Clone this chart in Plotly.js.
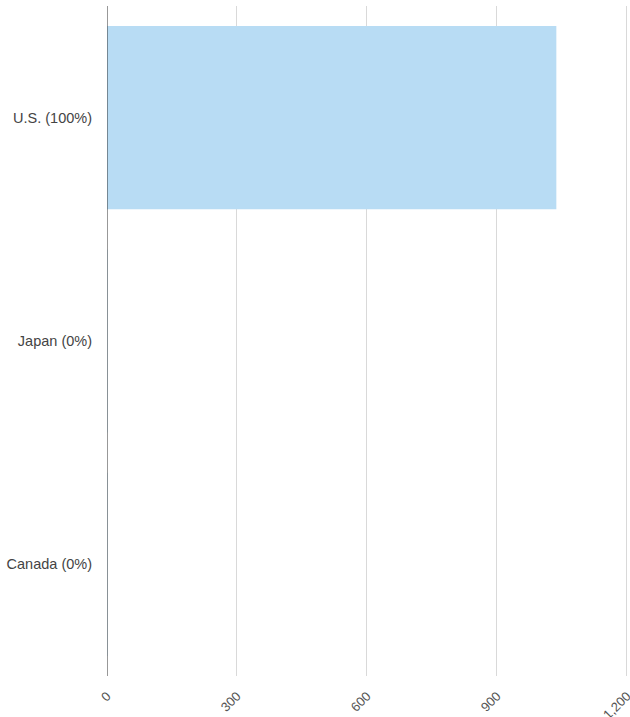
<!DOCTYPE html>
<html>
<head>
<meta charset="utf-8">
<script src="https://cdn.plot.ly/plotly-3.0.1.min.js"></script>
<style>html,body{margin:0;padding:0;background:#fff;}#chart{width:630px;height:717px;}</style>
</head>
<body>
<div id="chart"></div>
<script>
const categories = ["U.S. (100%)", "Japan (0%)", "Canada (0%)"];
const values = [1037, 1, 1];
const tickValues = [0, 300, 600, 900, 1200];
const tickLabels = ["0", "300", "600", "900", "1,200"];

Plotly.newPlot("chart", [{
  type: "bar",
  orientation: "h",
  y: categories,
  x: values,
  marker: {color: "#b8dcf4"},
  hoverinfo: "none"
}], {
  width: 630, height: 717,
  margin: {l: 107, r: 0, t: 6, b: 41},
  paper_bgcolor: "#ffffff",
  plot_bgcolor: "#ffffff",
  bargap: 0.18,
  showlegend: false,
  font: {family: "Liberation Sans, Arial, sans-serif", color: "#444"},
  xaxis: {
    range: [0, 1207],
    tickvals: tickValues,
    ticktext: tickLabels,
    tickangle: -45,
    showgrid: true,
    gridcolor: "#d9d9d9",
    gridwidth: 1,
    zeroline: false,
    showline: false,
    ticks: "",
    ticklabelstandoff: 9,
    ticklabeloverflow: "allow",
    tickfont: {size: 13, color: "#555"},
    fixedrange: true
  },
  yaxis: {
    categoryorder: "array",
    categoryarray: categories,
    autorange: "reversed",
    showgrid: false,
    zeroline: false,
    showline: false,
    ticks: "",
    ticklabelstandoff: 14,
    tickfont: {size: 14.5, color: "#444"},
    fixedrange: true
  },
  shapes: [{
    type: "line", xref: "x", yref: "paper",
    x0: 0, x1: 0, y0: 0, y1: 1,
    line: {color: "#333", width: 1}
  }]
}, {displayModeBar: false, staticPlot: true});
</script>
</body>
</html>
